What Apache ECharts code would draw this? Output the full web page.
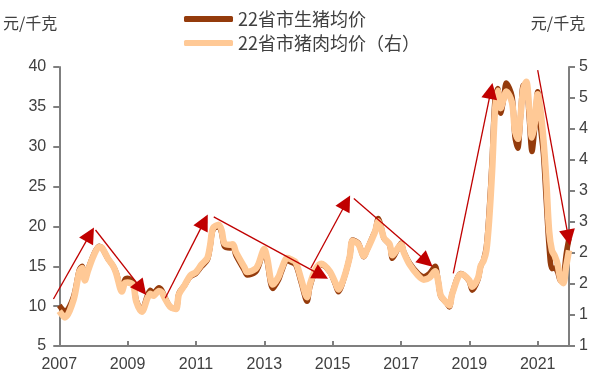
<!DOCTYPE html>
<html>
<head>
<meta charset="utf-8">
<script src="https://cdn.jsdelivr.net/npm/echarts@6/dist/echarts.min.js"></script>
<style>
html,body{margin:0;padding:0;background:#fff;}
#chart{width:601px;height:387px;}
</style>
</head>
<body>
<div id="chart"></div>
<script>
// Monthly observation dates (YYYY-MM)
const dates = ['2007-01','2007-03','2007-06','2007-08','2007-09','2007-10','2007-11','2008-01','2008-03','2008-04','2008-06','2008-08','2008-09','2008-11','2008-12','2009-01','2009-03','2009-04','2009-06','2009-08','2009-09','2009-10','2009-12','2010-01','2010-02','2010-04','2010-06','2010-07','2010-09','2010-11','2011-01','2011-03','2011-05','2011-06','2011-07','2011-09','2011-10','2011-11','2012-01','2012-02','2012-03','2012-06','2012-07','2012-10','2012-11','2013-01','2013-02','2013-04','2013-06','2013-07','2013-09','2013-10','2013-12','2014-02','2014-04','2014-05','2014-07','2014-09','2014-12','2015-02','2015-03','2015-05','2015-07','2015-08','2015-10','2015-12','2016-01','2016-03','2016-04','2016-05','2016-06','2016-07','2016-09','2016-10','2016-12','2017-01','2017-02','2017-04','2017-07','2017-09','2017-11','2018-01','2018-02','2018-03','2018-05','2018-06','2018-07','2018-10','2018-11','2019-01','2019-02','2019-04','2019-05','2019-06','2019-07','2019-08','2019-09','2019-10','2019-11','2019-12','2020-01','2020-02','2020-04','2020-05','2020-06','2020-07','2020-08','2020-09','2020-10','2020-11','2020-12','2021-01','2021-02','2021-03','2021-04','2021-05','2021-06','2021-07','2021-08','2021-09','2021-10','2021-11','2021-12'];

// 22省市生猪均价 (元/千克, left axis)
const hogPrice = [10.1,9.3,11.2,14.5,15.0,13.3,14.5,16.4,17.5,17.3,16.0,15.0,14.2,12.0,13.3,13.5,12.9,10.8,9.5,11.4,12.0,11.6,12.3,12.0,11.2,9.9,9.7,11.6,12.6,13.7,14.1,15.0,15.8,17.5,19.6,20.0,19.2,17.5,17.3,17.5,16.4,14.5,13.9,14.3,15.0,17.0,15.6,12.2,13.3,14.3,15.8,15.6,15.2,12.9,10.6,12.4,14.5,15.2,14.3,12.7,11.8,13.5,16.2,18.3,17.9,16.2,17.0,18.7,19.5,21.0,20.0,18.5,17.7,16.0,17.3,17.9,16.8,15.4,14.1,13.7,14.1,15.0,13.3,11.2,10.4,9.9,11.6,14.1,13.9,13.1,12.0,13.3,15.0,15.8,17.5,22.1,28.3,35.9,37.3,34.2,35.9,38.0,36.3,31.3,29.8,33.8,37.7,37.7,33.8,29.4,32.5,36.9,32.5,29.2,23.3,17.5,14.7,14.8,14.3,13.2,13.6,16.5,18.5];

// 22省市猪肉均价 (right axis)
const porkPrice = [1.50,1.41,1.66,2.06,2.12,1.94,2.07,2.29,2.42,2.41,2.26,2.14,2.04,1.78,1.90,1.91,1.87,1.64,1.49,1.69,1.75,1.72,1.79,1.77,1.69,1.56,1.53,1.74,1.87,2.01,2.06,2.17,2.26,2.45,2.69,2.74,2.66,2.47,2.45,2.46,2.35,2.13,2.06,2.11,2.18,2.39,2.26,1.88,1.99,2.10,2.26,2.25,2.20,1.95,1.70,1.88,2.10,2.18,2.07,1.90,1.81,1.98,2.28,2.51,2.46,2.29,2.37,2.55,2.65,2.79,2.70,2.55,2.46,2.30,2.41,2.46,2.34,2.17,2.01,1.95,1.98,2.07,1.94,1.72,1.62,1.58,1.75,2.03,2.02,1.94,1.85,1.97,2.15,2.22,2.37,2.83,3.51,4.37,4.66,4.41,4.54,4.65,4.49,4.09,3.97,4.31,4.70,4.79,4.43,3.99,4.20,4.61,4.37,3.97,3.40,2.66,2.37,2.29,2.17,1.95,1.90,2.14,2.37];

// Trend arrows: [date, value] at start and end (left axis units)
const arrowStart = [[2006.83,10.9],[2008.06,19.55],[2010.10,11.0],[2011.52,21.2],[2014.36,14.75],[2015.62,23.5],[2018.53,14.1],[2021.0,39.6]];
const arrowEnd   = [[2007.90,19.0],[2009.40,12.2],[2011.24,20.6],[2014.66,13.9],[2015.40,23.0],[2017.75,15.6],[2019.63,37.0],[2021.90,18.6]];

const xTicks = [2007, 2009, 2011, 2013, 2015, 2017, 2019, 2021];
const leftTicks = [5, 10, 15, 20, 25, 30, 35, 40];
const rightTicks = [1, 5];

const toYear = d => { const [y, m] = d.split('-').map(Number); return y + (m - 1) / 12; };
const hogData = dates.map((d, i) => [toYear(d), hogPrice[i]]);
const porkData = dates.map((d, i) => [toYear(d), porkPrice[i]]);
const arrowData = arrowStart.map((s, i) => ({ coords: [s, arrowEnd[i]] }));

const txt = '#404040';
const axisCol = '#7F7F7F';
const lab = { color: txt, fontSize: 16, fontFamily: 'Liberation Sans, Arial, sans-serif' };
const cjk = 'Noto Sans CJK SC, sans-serif';

const chart = echarts.init(document.getElementById('chart'), null, { renderer: 'canvas' });
chart.setOption({
  animation: false,
  backgroundColor: '#fff',
  grid: { left: 57, right: 32, top: 67, bottom: 41 },
  legend: {
    orient: 'vertical', left: 184, top: 10, itemGap: 6, padding: 0,
    itemWidth: 49, itemHeight: 6, icon: 'roundRect',
    textStyle: { color: txt, fontSize: 18, fontFamily: cjk },
    data: ['22省市生猪均价', '22省市猪肉均价（右）']
  },
  xAxis: {
    type: 'value', min: xTicks[0], max: 2007 + 179 / 12, interval: 2,
    axisLine: { lineStyle: { color: axisCol, width: 2 } },
    axisTick: { inside: true, length: 5, lineStyle: { color: axisCol, width: 2 } },
    axisLabel: Object.assign({}, lab, { margin: 11, formatter: v => xTicks.includes(v) ? String(v) : '' }),
    splitLine: { show: false }
  },
  yAxis: [{
    type: 'value', min: leftTicks[0], max: leftTicks[leftTicks.length - 1], interval: 5,
    name: '元/千克', nameLocation: 'end', nameGap: 44,
    nameTextStyle: { color: txt, fontSize: 16, fontFamily: cjk, align: 'right', verticalAlign: 'middle', padding: [0, 2, 0, 0] },
    axisLine: { show: true, lineStyle: { color: axisCol, width: 2 } },
    axisTick: { show: true, length: 6, lineStyle: { color: axisCol, width: 2 } },
    axisLabel: Object.assign({}, lab, { margin: 13 }),
    splitLine: { show: false }
  }, {
    type: 'value', min: rightTicks[0], max: rightTicks[1], interval: (rightTicks[1] - rightTicks[0]) / 9,
    position: 'right',
    name: '元/千克', nameLocation: 'end', nameGap: 44,
    nameTextStyle: { color: txt, fontSize: 16, fontFamily: cjk, align: 'center', verticalAlign: 'middle', padding: [0, 22, 0, 0] },
    axisLine: { show: true, lineStyle: { color: axisCol, width: 2 } },
    axisTick: { show: true, length: 6, lineStyle: { color: axisCol, width: 2 } },
    axisLabel: Object.assign({}, lab, { margin: 10, formatter: v => String(Math.round(v)) }),
    splitLine: { show: false }
  }],
  series: [{
    name: '22省市生猪均价', type: 'line', yAxisIndex: 0, data: hogData,
    showSymbol: false, smooth: 0.3, color: '#943B0C',
    lineStyle: { color: '#943B0C', width: 5.5 }, z: 2
  }, {
    name: '22省市猪肉均价（右）', type: 'line', yAxisIndex: 1, data: porkData,
    showSymbol: false, smooth: 0.3, color: '#FFC996',
    lineStyle: { color: '#FFC996', width: 6.5 }, z: 3
  }, {
    type: 'lines', coordinateSystem: 'cartesian2d', xAxisIndex: 0, yAxisIndex: 0,
    clip: false, data: arrowData, silent: true,
    symbol: ['none', 'triangle'], symbolSize: [0, 16],
    lineStyle: { color: '#C00000', width: 1.3, opacity: 1 },
    itemStyle: { color: '#C00000' }, z: 5
  }]
});
</script>
</body>
</html>
